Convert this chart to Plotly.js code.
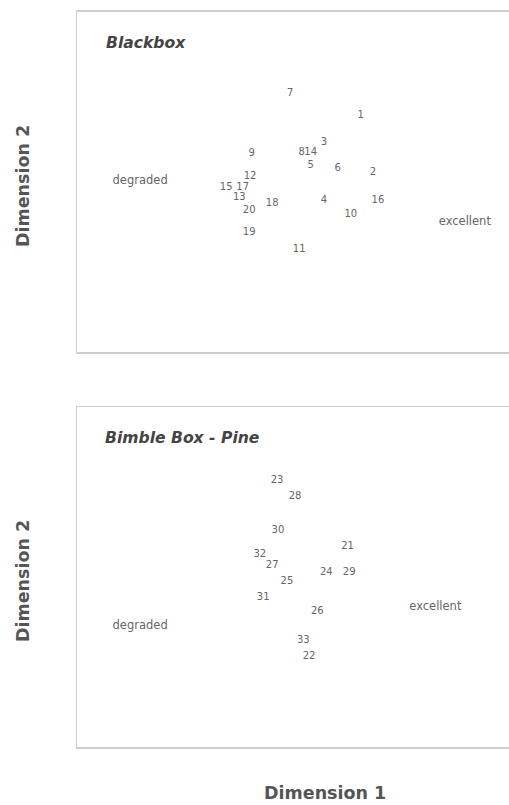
<!DOCTYPE html>
<html>
<head>
<meta charset="utf-8">
<script src="https://cdn.plot.ly/plotly-3.0.1.min.js"></script>
<style>
html,body{margin:0;padding:0;overflow:hidden;background:#fff;}
#chart{width:580px;height:805px;}
</style>
</head>
<body>
<div id="chart"></div>
<script>
// Panel 1: Blackbox
const bbLabels = ["1","2","3","4","5","6","7","8","9","10","11","12","13","14","15","16","17","18","19","20"];
const bbX = [0.46, 0.61, 0.01, 0.01, -0.15, 0.18, -0.40, -0.26, -0.87, 0.34, -0.29, -0.89, -1.02, -0.15, -1.18, 0.67, -0.98, -0.62, -0.90, -0.90];
const bbY = [0.78, 0.11, 0.46, -0.22, 0.19, 0.16, 1.04, 0.35, 0.34, -0.38, -0.79, 0.06, -0.18, 0.35, -0.06, -0.22, -0.06, -0.25, -0.59, -0.34];

// Panel 2: Bimble Box - Pine
const bpLabels = ["21","22","23","24","25","26","27","28","29","30","31","32","33"];
const bpX = [0.30, -0.17, -0.56, 0.04, -0.44, -0.07, -0.62, -0.34, 0.32, -0.55, -0.73, -0.77, -0.24];
const bpY = [0.36, -0.94, 1.13, 0.05, -0.05, -0.41, 0.14, 0.95, 0.05, 0.55, -0.24, 0.27, -0.75];

// Anchor words
const anchorLabels = ["degraded", "excellent"];
const bbAnchorX = [-2.23, 1.73];
const bbAnchorY = [0.01, -0.47];
const bpAnchorX = [-2.23, 1.37];
const bpAnchorY = [-0.58, -0.35];

const panelTitles = ["Blackbox", "Bimble Box - Pine"];
const axisTitles = {x: "Dimension 1", y: "Dimension 2"};

const FONT = "DejaVu Sans, Verdana, sans-serif";
const labelFont = {family: FONT, size: 10, color: "#666"};
const anchorFont = {family: FONT, size: 11.5, color: "#666"};

const traces = [
  {x: bbX, y: bbY, text: bbLabels, mode: "text", textposition: "middle center", textfont: labelFont, xaxis: "x", yaxis: "y", hoverinfo: "none", showlegend: false},
  {x: bbAnchorX, y: bbAnchorY, text: anchorLabels, mode: "text", textposition: "middle center", textfont: anchorFont, xaxis: "x", yaxis: "y", hoverinfo: "none", showlegend: false},
  {x: bpX, y: bpY, text: bpLabels, mode: "text", textposition: "middle center", textfont: labelFont, xaxis: "x2", yaxis: "y2", hoverinfo: "none", showlegend: false},
  {x: bpAnchorX, y: bpAnchorY, text: anchorLabels, mode: "text", textposition: "middle center", textfont: anchorFont, xaxis: "x2", yaxis: "y2", hoverinfo: "none", showlegend: false}
];

const axBase = {range: [-3, 3], showgrid: false, zeroline: false, showticklabels: false, ticks: "", showline: true, mirror: true, linecolor: "#cfcfcf", linewidth: 1.5, fixedrange: true};
const ayBase = {range: [-2, 2], showgrid: false, zeroline: false, showticklabels: false, ticks: "", showline: true, mirror: true, linecolor: "#cfcfcf", linewidth: 1.5, fixedrange: true};

const titleFont = {family: FONT, size: 15.6, color: "#444"};
const axTitleFont = {family: FONT, size: 17.5, color: "#555"};

const layout = {
  width: 580, height: 805,
  margin: {l: 77, r: 11, t: 0, b: 0},
  paper_bgcolor: "#fff", plot_bgcolor: "#fff",
  xaxis: Object.assign({}, axBase, {domain: [0, 1], anchor: "y"}),
  yaxis: Object.assign({}, ayBase, {domain: [0.5627, 0.9851], anchor: "x"}),
  xaxis2: Object.assign({}, axBase, {domain: [0, 1], anchor: "y2"}),
  yaxis2: Object.assign({}, ayBase, {domain: [0.0720, 0.4944], anchor: "x2"}),
  annotations: [
    {text: "<b><i>" + panelTitles[0] + "</i></b>", xref: "x domain", yref: "y domain", x: 0.055, y: 0.909, xanchor: "left", yanchor: "middle", showarrow: false, font: titleFont},
    {text: "<b><i>" + panelTitles[1] + "</i></b>", xref: "x2 domain", yref: "y2 domain", x: 0.053, y: 0.909, xanchor: "left", yanchor: "middle", showarrow: false, font: titleFont},
    {text: "<b>" + axisTitles.y + "</b>", xref: "paper", yref: "y domain", x: -0.1098, y: 0.488, xanchor: "center", yanchor: "middle", textangle: -90, showarrow: false, font: axTitleFont},
    {text: "<b>" + axisTitles.y + "</b>", xref: "paper", yref: "y2 domain", x: -0.1098, y: 0.488, xanchor: "center", yanchor: "middle", textangle: -90, showarrow: false, font: axTitleFont},
    {text: "<b>" + axisTitles.x + "</b>", xref: "paper", yref: "paper", x: (325 - 77) / 492, y: 1 - 793/805, xanchor: "center", yanchor: "middle", showarrow: false, font: axTitleFont}
  ]
};

Plotly.newPlot("chart", traces, layout, {staticPlot: true, displayModeBar: false});
</script>
</body>
</html>
